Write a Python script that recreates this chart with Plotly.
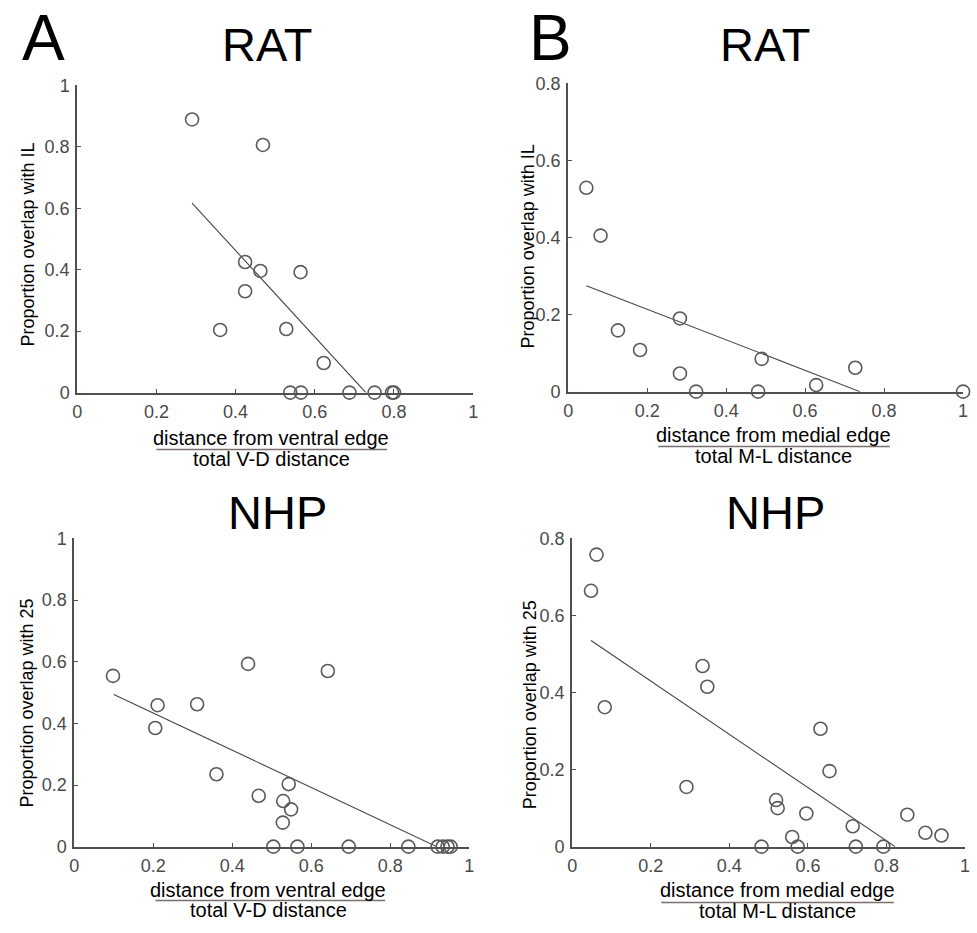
import plotly.graph_objects as go

W, H = 977, 933

# ---------------- data ----------------
ratA_x = [0.29, 0.469, 0.424, 0.4625, 0.564, 0.424, 0.361, 0.528, 0.6225,
          0.538, 0.565, 0.6875, 0.751, 0.795, 0.800]
ratA_y = [0.889, 0.806, 0.425, 0.396, 0.392, 0.330, 0.204, 0.207, 0.0965,
          0, 0, 0, 0, 0, 0]
ratA_fit_x = [0.29, 0.729]
ratA_fit_y = [0.617, 0.0]

ratB_x = [0.046, 0.082, 0.126, 0.182, 0.283, 0.283, 0.324, 0.490, 0.481,
          0.628, 0.727, 1.0]
ratB_y = [0.529, 0.405, 0.159, 0.108, 0.190, 0.047, 0, 0.085, 0,
          0.017, 0.062, 0]
ratB_fit_x = [0.046, 0.739]
ratB_fit_y = [0.275, 0.0]

nhpA_x = [0.098, 0.211, 0.205, 0.311, 0.440, 0.642, 0.360, 0.467, 0.543,
          0.529, 0.549, 0.528, 0.504, 0.565, 0.695, 0.846,
          0.920, 0.933, 0.945, 0.953]
nhpA_y = [0.554, 0.459, 0.385, 0.462, 0.593, 0.570, 0.235, 0.165, 0.203,
          0.148, 0.121, 0.078, 0, 0, 0, 0,
          0, 0, 0, 0]
nhpA_fit_x = [0.100, 0.918]
nhpA_fit_y = [0.494, 0.0]

nhpB_x = [0.062, 0.048, 0.083, 0.332, 0.344, 0.291, 0.632, 0.655, 0.519,
          0.523, 0.596, 0.560, 0.482, 0.574, 0.714, 0.722, 0.792, 0.853,
          0.899, 0.940]
nhpB_y = [0.758, 0.664, 0.362, 0.469, 0.415, 0.155, 0.306, 0.196, 0.121,
          0.100, 0.086, 0.025, 0, 0, 0.053, 0, 0, 0.083,
          0.036, 0.029]
nhpB_fit_x = [0.048, 0.822]
nhpB_fit_y = [0.535, 0.0]

x_ticks = [0, 0.2, 0.4, 0.6, 0.8, 1]
y_ticks_1 = [0, 0.2, 0.4, 0.6, 0.8, 1]
y_ticks_08 = [0, 0.2, 0.4, 0.6, 0.8]

# ---------------- layout helpers ----------------
def px(x):
    return x / W

def py(y):
    return 1 - y / H

FONT = "Liberation Sans, Arial, sans-serif"
AX = "#505050"
MK = "#5a5a5a"

# panel pixel boxes: (left, right, top, bottom)
boxes = {
    1: (73, 473, 77, 391),
    2: (569, 968, 75, 390),
    3: (70, 469, 540, 855),
    4: (573, 970, 540, 855),
}

fig = go.Figure()

panels = [
    (1, ratA_x, ratA_y, ratA_fit_x, ratA_fit_y, 1.0, y_ticks_1),
    (2, ratB_x, ratB_y, ratB_fit_x, ratB_fit_y, 0.8, y_ticks_08),
    (3, nhpA_x, nhpA_y, nhpA_fit_x, nhpA_fit_y, 1.0, y_ticks_1),
    (4, nhpB_x, nhpB_y, nhpB_fit_x, nhpB_fit_y, 0.8, y_ticks_08),
]

for i, xs, ys, fx, fy, ymax, yt in panels:
    xa = "x" if i == 1 else f"x{i}"
    ya = "y" if i == 1 else f"y{i}"
    fig.add_trace(go.Scatter(
        x=fx, y=fy, mode="lines", xaxis=xa, yaxis=ya,
        line=dict(color="#444444", width=1.1), showlegend=False,
        hoverinfo="skip"))
    fig.add_trace(go.Scatter(
        x=xs, y=ys, mode="markers", xaxis=xa, yaxis=ya, cliponaxis=False,
        marker=dict(symbol="circle-open", size=13, color=MK,
                    line=dict(color=MK, width=1.6)),
        showlegend=False))
    l, r, t, b = boxes[i]
    axis_common = dict(
        showline=True, linecolor=AX, linewidth=2, showgrid=False,
        zeroline=False, ticks="inside", ticklen=4, tickcolor=AX,
        tickwidth=1, tickfont=dict(family=FONT, size=18, color="#4a4a4a"),
        fixedrange=True,
    )
    xkey = "xaxis" if i == 1 else f"xaxis{i}"
    ykey = "yaxis" if i == 1 else f"yaxis{i}"
    fig.update_layout(**{
        xkey: dict(domain=[px(l), px(r)], range=[0, 1], anchor=ya,
                   tickvals=x_ticks, ticklabelstandoff=2, **axis_common),
        ykey: dict(domain=[py(b), py(t)], range=[0, ymax], anchor=xa,
                   tickvals=yt, ticklabelstandoff=2, **axis_common),
    })

annotations = []

def text(x, y, s, size, color="black", angle=0, dy=0):
    annotations.append(dict(
        x=px(x), y=py(y), xref="paper", yref="paper", text=s,
        showarrow=False, xanchor="center", yanchor="middle",
        textangle=angle, yshift=dy,
        font=dict(family=FONT, size=size, color=color)))

# panel letters (cap-centre targets, shifted for glyph offset)
text(39, 37, "A", 64, dy=8)
text(551, 37, "B", 64, dy=8)
# titles
text(265, 43, "RAT", 47, dy=8)
text(768, 43, "RAT", 47, dy=8)
text(275, 522, "NHP", 47, dy=8)
text(778, 522, "NHP", 47, dy=8)
# y axis titles
text(23, 240, "Proportion overlap with IL", 18, "black", -90)
text(528, 242, "Proportion overlap with IL", 18, "black", -90)
text(22, 708, "Proportion overlap with 25", 18, "black", -90)
text(530, 710, "Proportion overlap with 25", 18, "black", -90)
# x axis titles (fractions)
fracs = [
    (269, 437, 460, "distance from ventral edge", "total V-D distance", 153, 386, 449),
    (776, 434, 457, "distance from medial edge", "total M-L distance", 660, 894, 446),
    (266, 899, 921, "distance from ventral edge", "total V-D distance", 152, 384, 910),
    (780, 899, 922, "distance from medial edge", "total M-L distance", 663, 898, 912),
]
shapes = []
for cx, ny, dy_, num, den, x0, x1, ly in fracs:
    text(cx, ny, num, 20)
    text(cx, dy_, den, 20, dy=1)
    shapes.append(dict(type="line", xref="paper", yref="paper",
                       x0=px(x0), x1=px(x1), y0=py(ly), y1=py(ly),
                       line=dict(color="#7a6e6e", width=1.5)))

fig.update_layout(
    width=W, height=H, margin=dict(l=0, r=0, t=0, b=0),
    paper_bgcolor="white", plot_bgcolor="white",
    annotations=annotations, shapes=shapes,
    font=dict(family=FONT),
)

fig.write_html("out.html", config={"displayModeBar": False})

# remove the default page margin so the figure sits at the window origin
with open("out.html", "r", encoding="utf-8") as f:
    html = f.read()
html = html.replace("<head>", "<head><style>html,body{margin:0;padding:0;overflow:hidden}</style>", 1)
with open("out.html", "w", encoding="utf-8") as f:
    f.write(html)
